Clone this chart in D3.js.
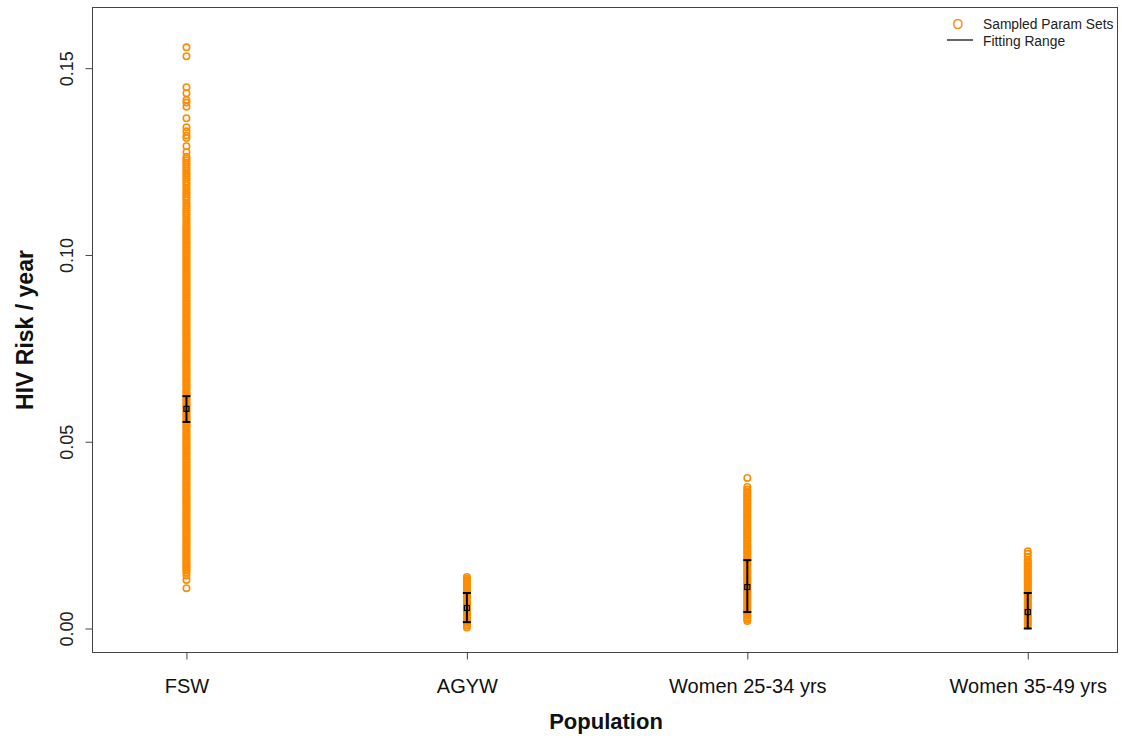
<!DOCTYPE html>
<html><head><meta charset="utf-8">
<script src="https://cdn.jsdelivr.net/npm/d3@7"></script>
<style>body{margin:0;background:#fff}svg{display:block;font-family:"Liberation Sans",Arial,sans-serif}</style>
</head><body><svg id="c" width="1122" height="738"></svg>
<script>
const categories = ["FSW", "AGYW", "Women 25-34 yrs", "Women 35-49 yrs"];
const yTicks = [0, 0.05, 0.10, 0.15];
const yTickLabels = ["0.00", "0.05", "0.10", "0.15"];

const sampledFSW = [0.0108,0.0130,0.0142,
0.0150,0.0155,0.0159,0.0164,0.0168,0.0173,0.0177,0.0182,0.0186,0.0191,0.0195,0.0200,0.0204,0.0209,0.0213,0.0218,0.0222,0.0227,0.0231,0.0236,0.0240,0.0245,0.0249,0.0254,0.0258,0.0263,0.0267,0.0272,0.0276,0.0281,0.0285,0.0290,0.0294,0.0299,0.0303,0.0308,0.0312,0.0317,0.0321,0.0326,0.0330,0.0335,0.0339,0.0344,0.0348,0.0353,0.0357,0.0362,0.0366,0.0371,0.0375,0.0380,0.0384,0.0389,0.0393,0.0398,0.0402,0.0407,0.0411,0.0416,0.0420,0.0425,0.0429,0.0434,0.0438,0.0443,0.0447,0.0452,0.0456,0.0461,0.0465,0.0470,0.0474,0.0479,0.0483,0.0488,0.0492,0.0497,0.0501,0.0506,0.0510,0.0515,0.0519,0.0524,0.0528,0.0533,0.0537,0.0542,0.0546,0.0551,0.0555,0.0560,0.0564,0.0569,0.0573,0.0578,0.0582,0.0587,0.0591,0.0596,0.0600,0.0605,0.0609,0.0614,0.0618,0.0623,0.0627,0.0632,0.0636,0.0641,0.0645,0.0650,0.0654,0.0659,0.0663,0.0668,0.0672,0.0677,0.0681,0.0686,0.0690,0.0695,0.0699,0.0704,0.0708,0.0713,0.0717,0.0722,0.0726,0.0731,0.0735,0.0740,0.0744,0.0749,0.0753,0.0758,0.0762,0.0767,0.0771,0.0776,0.0780,0.0785,0.0789,0.0794,0.0798,0.0803,0.0807,0.0812,0.0816,0.0821,0.0825,0.0830,0.0834,0.0839,0.0843,0.0848,0.0852,0.0857,0.0861,0.0866,0.0870,0.0875,0.0879,0.0884,0.0888,0.0893,0.0897,0.0902,0.0906,0.0911,0.0915,0.0920,0.0924,0.0929,0.0933,0.0938,0.0942,0.0947,0.0951,0.0956,0.0960,0.0965,0.0969,0.0974,0.0978,0.0983,0.0987,0.0992,0.0996,0.1001,0.1005,0.1010,0.1014,0.1019,0.1023,0.1028,0.1032,0.1037,0.1041,0.1046,0.1050,0.1055,0.1059,0.1064,0.1068,0.1073,0.1077,
0.1083,0.1088,0.1094,0.1099,0.1106,0.1111,0.1117,0.1122,0.1128,0.1133,0.1139,0.1146,0.1152,0.1157,0.1163,0.1168,0.1174,0.1179,0.1186,0.1191,0.1197,0.1203,0.1208,0.1214,0.1219,0.1225,0.1231,0.1236,0.1242,0.1247,0.1253,0.1258,0.1263,
0.1275,0.1291,0.1313,0.1320,0.1331,0.1342,0.1366,0.1397,0.1408,0.1415,0.1433,0.1449,0.1532,0.1556];
const sampledAGYW = [0.0003,0.0008,0.0012,0.0017,0.0021,0.0026,0.0030,0.0035,0.0039,0.0044,0.0048,0.0053,0.0057,0.0062,0.0066,0.0071,0.0075,0.0080,0.0084,0.0089,0.0093,0.0098,0.0102,0.0107,0.0111,0.0116,0.0120,0.0125,0.0129,0.0133,0.0138];
const sampledW2534 = [0.0020,0.0025,0.0029,0.0034,0.0038,0.0043,0.0047,0.0052,0.0056,0.0061,0.0065,0.0070,0.0074,0.0079,0.0083,0.0088,0.0092,0.0097,0.0101,0.0106,0.0110,0.0115,0.0119,0.0124,0.0128,0.0133,0.0137,0.0142,0.0146,0.0151,0.0155,0.0160,0.0164,0.0169,0.0173,0.0178,0.0182,0.0187,0.0191,0.0196,0.0200,0.0205,0.0209,0.0214,0.0218,0.0223,0.0227,0.0232,0.0236,0.0241,0.0245,0.0250,0.0254,0.0259,0.0263,0.0268,0.0272,0.0277,0.0281,0.0286,0.0290,0.0295,0.0299,0.0304,0.0308,0.0313,0.0317,0.0322,0.0326,0.0331,0.0335,0.0340,0.0344,0.0349,0.0354,0.0357,0.0362,0.0366,0.0372,0.0379,0.0403];
const sampledW3549 = [0.0008,0.0013,0.0017,0.0022,0.0026,0.0031,0.0035,0.0040,0.0044,0.0049,0.0053,0.0058,0.0062,0.0067,0.0071,0.0076,0.0080,0.0085,0.0089,0.0094,0.0098,0.0103,0.0107,0.0112,0.0116,0.0121,0.0125,0.0130,0.0134,0.0139,0.0143,0.0148,0.0152,0.0157,0.0161,0.0166,0.0170,0.0175,0.0179,0.0184,0.0192,0.0200,0.0207];

const fitLow  = [0.0553, 0.0017, 0.0044, 0.0000];
const fitMid  = [0.0588, 0.0055, 0.0111, 0.0044];
const fitHigh = [0.0622, 0.0095, 0.0183, 0.0095];

const sampled = [sampledFSW, sampledAGYW, sampledW2534, sampledW3549];

const svg = d3.select("#c");
const L = 92.5, R = 1117.5, T = 7.5, B = 652.5;
const x = d3.scaleLinear().domain([0.665, 4.32]).range([L, R]);
const y = d3.scaleLinear().domain([0, 0.15]).range([628.5, 68.2]);
const orange = "#FF8C00";

// points
const pts = [];
sampled.forEach((arr, i) => arr.forEach(v => pts.push({c: i + 1, v})));
svg.append("g").selectAll("circle").data(pts).join("circle")
  .attr("cx", d => x(d.c)).attr("cy", d => y(d.v)).attr("r", 3.2)
  .attr("fill", "none").attr("stroke", orange).attr("stroke-width", 1.6);

// fitting ranges
const eb = svg.append("g").attr("stroke", "#000").attr("fill", "none");
categories.forEach((c, i) => {
  const cx = x(i + 1);
  eb.append("line").attr("x1", cx).attr("x2", cx).attr("y1", y(fitLow[i])).attr("y2", y(fitHigh[i])).attr("stroke-width", 2);
  [fitLow[i], fitHigh[i]].forEach(v => eb.append("line").attr("x1", cx - 4).attr("x2", cx + 4).attr("y1", y(v)).attr("y2", y(v)).attr("stroke-width", 2));
  eb.append("rect").attr("x", cx - 2.5).attr("y", y(fitMid[i]) - 2.5).attr("width", 5).attr("height", 5).attr("stroke-width", 1.2);
});

// box
svg.append("rect").attr("x", L).attr("y", T).attr("width", R - L).attr("height", B - T)
  .attr("fill", "none").attr("stroke", "#444").attr("stroke-width", 1);

// y axis
const ya = svg.append("g").attr("transform", `translate(${L},0)`)
  .call(d3.axisLeft(y).tickValues(yTicks).tickSize(7).tickFormat((d, i) => yTickLabels[i]));
ya.select(".domain").remove();
ya.selectAll(".tick line").attr("stroke", "#444");
ya.selectAll(".tick text").attr("transform", "rotate(-90)").attr("x", 0).attr("y", -20)
  .attr("dy", "0").attr("text-anchor", "middle").attr("font-size", 18).attr("fill", "#222")
  .attr("font-family", "Liberation Sans, Arial, sans-serif");

// x axis
const xa = svg.append("g").attr("transform", `translate(0,${B})`)
  .call(d3.axisBottom(x).tickValues([1, 2, 3, 4]).tickSize(7).tickFormat((d, i) => categories[i]));
xa.select(".domain").remove();
xa.selectAll(".tick line").attr("stroke", "#444");
xa.selectAll(".tick text").attr("y", 40).attr("dy", "0").attr("font-size", 20).attr("fill", "#111")
  .attr("font-family", "Liberation Sans, Arial, sans-serif");

// titles
svg.append("text").attr("x", 606).attr("y", 729).attr("text-anchor", "middle")
  .attr("font-size", 22).attr("font-weight", "bold").attr("fill", "#111").text("Population");
svg.append("text").attr("transform", "translate(33,330) rotate(-90)").attr("text-anchor", "middle")
  .attr("font-size", 23).attr("font-weight", "bold").attr("fill", "#111").text("HIV Risk / year");

// legend
const lg = svg.append("g");
lg.append("text").attr("x", 958).attr("y", 29).attr("text-anchor", "middle").attr("font-size", 14)
  .attr("fill", orange).text("O");
lg.append("text").attr("x", 983).attr("y", 29).attr("font-size", 13.8).attr("fill", "#222").text("Sampled Param Sets");
lg.append("line").attr("x1", 947).attr("x2", 973).attr("y1", 40).attr("y2", 40).attr("stroke", "#000").attr("stroke-width", 1.2);
lg.append("text").attr("x", 983).attr("y", 46).attr("font-size", 13.8).attr("fill", "#222").text("Fitting Range");
</script></body></html>
